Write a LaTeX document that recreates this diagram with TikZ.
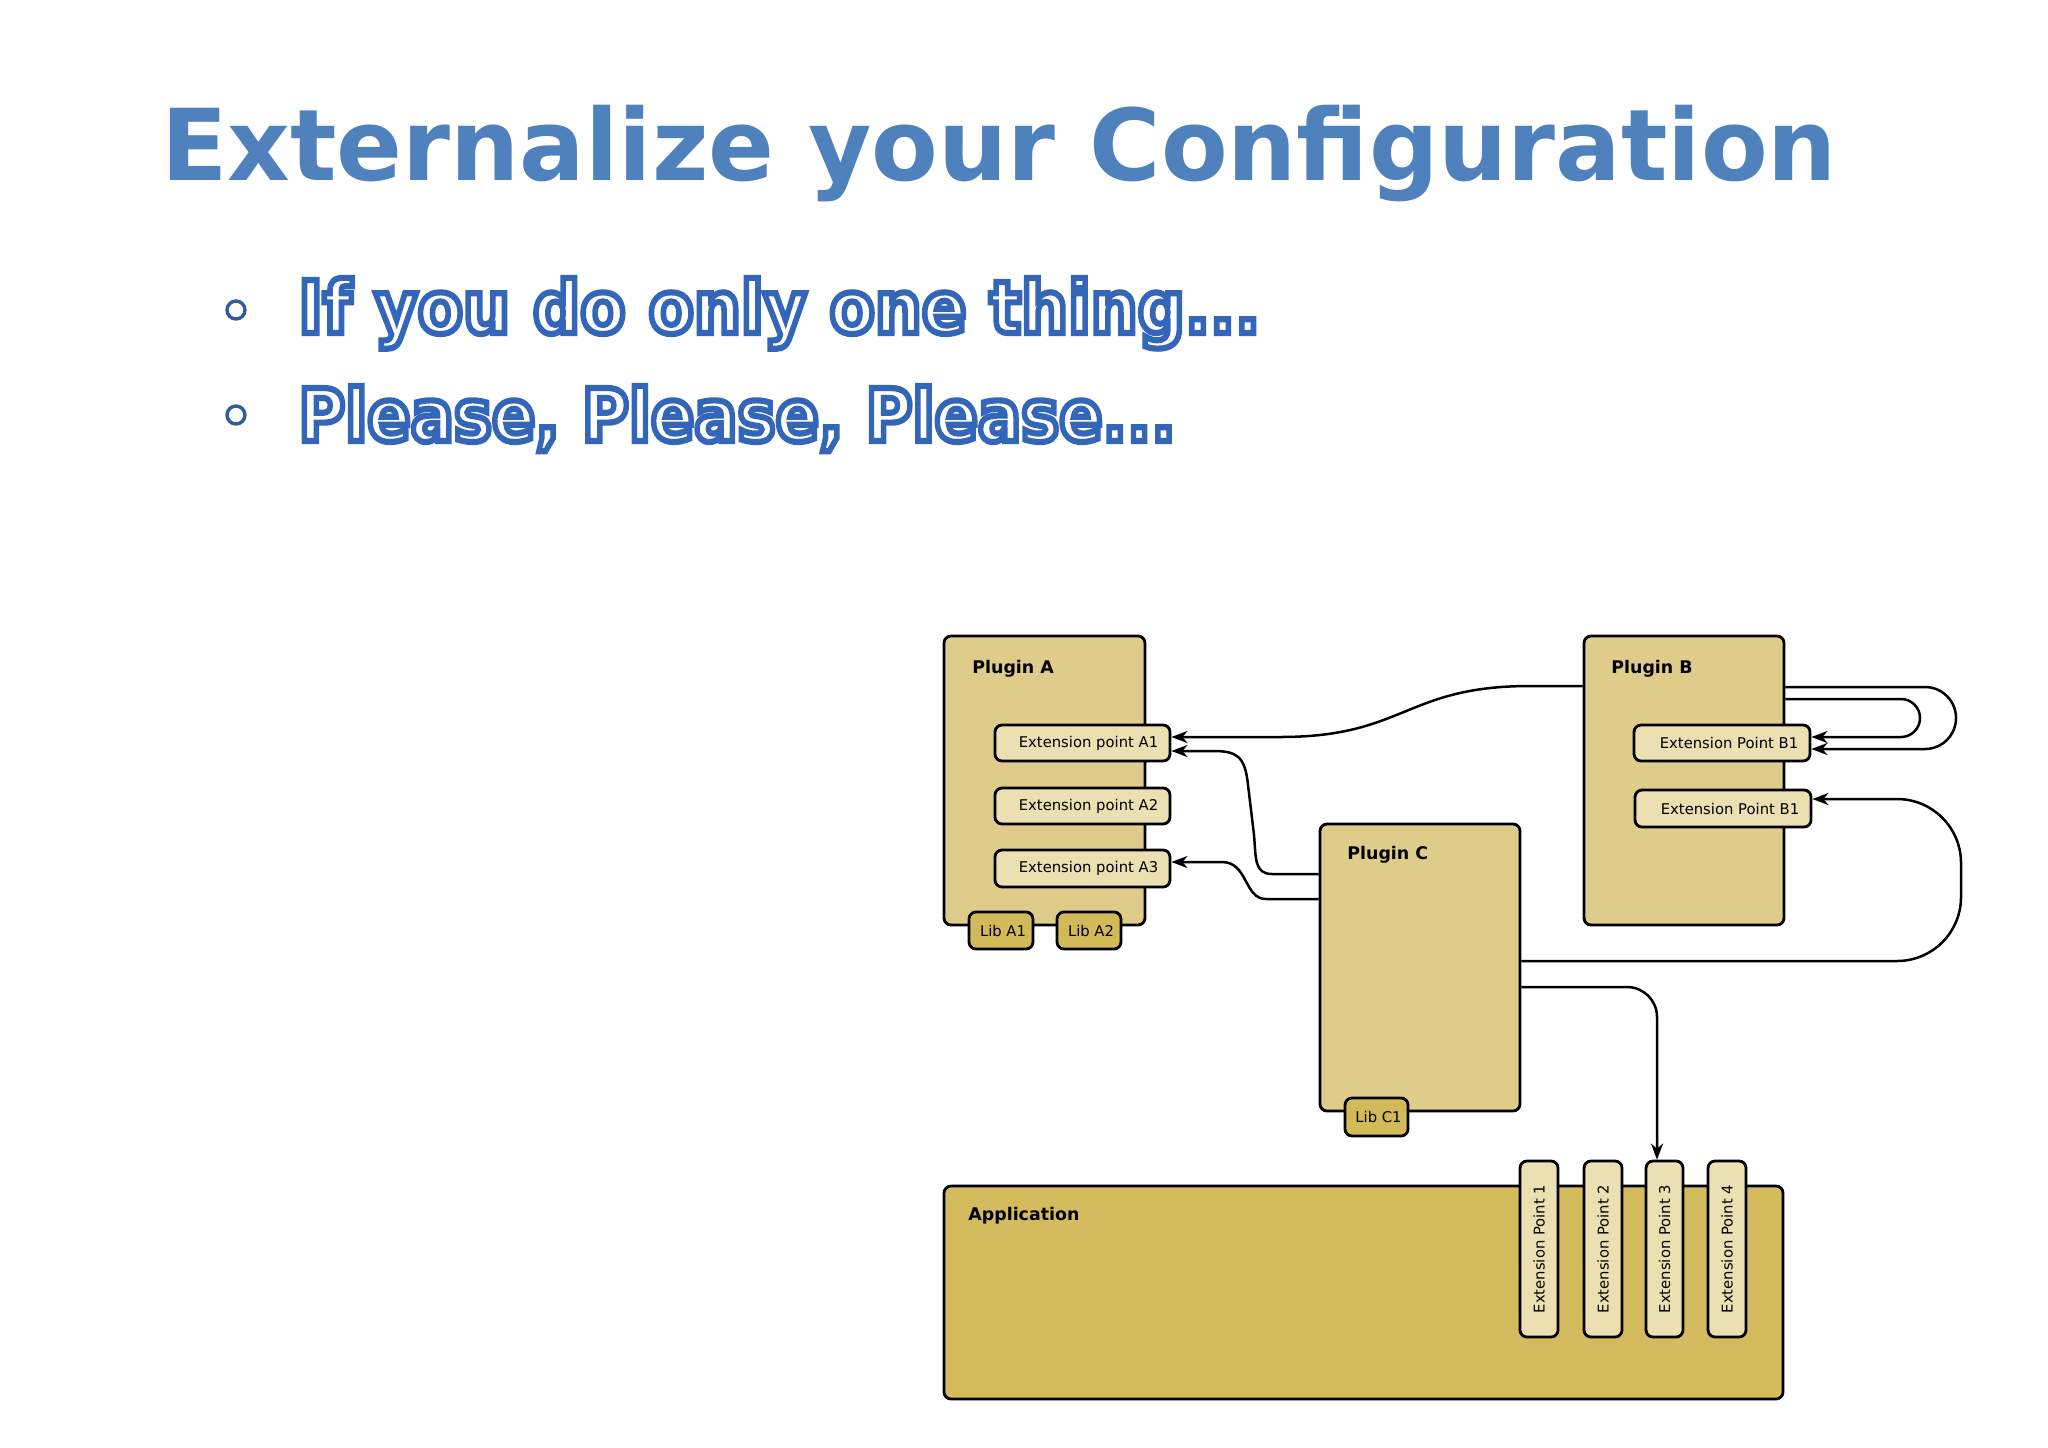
\documentclass[tikz,border=0pt]{standalone}
\usepackage{fontspec}
\usepackage{graphicx}
\setmainfont{DejaVu Sans}
\usetikzlibrary{arrows.meta,fit,calc}
\definecolor{plugfill}{HTML}{DFCC8A}
\definecolor{extfill}{HTML}{EBE0B2}
\definecolor{libfill}{HTML}{D3BA59}
\definecolor{appfill}{HTML}{D4BC5E}
\definecolor{titleblue}{HTML}{4F81BD}
\definecolor{bulletblue}{HTML}{2E5E9E}
\newcommand\outlinetext[1]{\special{pdf:literal direct 2 Tr 2.8 w 0.20 0.40 0.72 RG 1 1 1 rg}#1\special{pdf:literal direct 0 Tr 0 0 0 RG 0 0 0 rg}}
\tikzset{
  box/.style={draw=black, line width=1.4pt, rounded corners=3.5pt, inner sep=0pt},
  plugin/.style={box, fill=plugfill},
  extbox/.style={box, fill=extfill},
  libbox/.style={box, fill=libfill},
  appbox/.style={box, fill=appfill},
  biglabel/.style={font=\bfseries\fontsize{8.7}{10}\selectfont, anchor=west, inner sep=0pt},
  smalllabel/.style={font=\fontsize{7.4}{9}\selectfont, inner sep=0pt},
  vlabel/.style={font=\fontsize{7.4}{9}\selectfont, rotate=90, inner sep=0pt},
  conn/.style={line width=1.25pt, -{Stealth[length=8pt,width=6pt,inset=2.5pt]}},
  bulletdot/.style={circle, draw=bulletblue, line width=1.7pt, minimum size=9pt, inner sep=0pt},
  bullettext/.style={anchor=base west, inner sep=0pt, font=\bfseries\fontsize{33}{36}\selectfont}
}
\begin{document}
\begin{tikzpicture}[x=0.5pt,y=-0.5pt]
\useasboundingbox (0,0) rectangle (2048,1447);
\fill[white] (0,0) rectangle (2048,1447);

% title
\node[anchor=base west, inner sep=0pt, text=titleblue, font=\bfseries\fontsize{48.6}{52}\selectfont] (title) at (161,180) {\scalebox{1}[1.02]{Externalize your Configuration}};

% bullets
\node[bulletdot] (b1) at (236,310) {};
\node[bullettext] (t1) at (298,333) {\scalebox{1}[1.1]{\outlinetext{If you do only one thing...}}};
\node[bulletdot] (b2) at (236,415) {};
\node[bullettext] (t2) at (298,441) {\scalebox{0.97}[1.1]{\outlinetext{Please, Please, Please...}}};

% Plugin A
\node[plugin, fit={(944,636) (1145,925)}] (pa) {};
\node[biglabel] (pal) at (972,669) {Plugin A};
\node[extbox, fit={(995,725) (1170,761)}] (ea1) {};
\node[smalllabel] (ea1l) at ($(ea1.center)+(6,0)$) {Extension point A1};
\node[extbox, fit={(995,788) (1170,824)}] (ea2) {};
\node[smalllabel] (ea2l) at ($(ea2.center)+(6,0)$) {Extension point A2};
\node[extbox, fit={(995,850) (1170,887)}] (ea3) {};
\node[smalllabel] (ea3l) at ($(ea3.center)+(6,0)$) {Extension point A3};
\node[libbox, fit={(969,912) (1033,949)}] (la1) {};
\node[smalllabel] (la1l) at ($(la1.center)+(2,0)$) {Lib A1};
\node[libbox, fit={(1057,912) (1121,949)}] (la2) {};
\node[smalllabel] (la2l) at ($(la2.center)+(2,0)$) {Lib A2};

% Plugin B
\node[plugin, fit={(1584,636) (1784,925)}] (pb) {};
\node[biglabel] (pbl) at (1611,669) {Plugin B};
\node[extbox, fit={(1634,725) (1810,761)}] (eb1) {};
\node[smalllabel] (eb1l) at ($(eb1.center)+(7,0)$) {Extension Point B1};
\node[extbox, fit={(1635,790) (1811,827)}] (eb2) {};
\node[smalllabel] (eb2l) at ($(eb2.center)+(7,0)$) {Extension Point B1};

% Plugin C
\node[plugin, fit={(1320,824) (1520,1111)}] (pc) {};
\node[biglabel] (pcl) at (1347,855) {Plugin C};
\node[libbox, fit={(1345,1098) (1408,1136)}] (lc1) {};
\node[smalllabel] (lc1l) at ($(lc1.center)+(2,0)$) {Lib C1};

% Application
\node[appbox, fit={(944,1186) (1783,1399)}] (app) {};
\node[biglabel] (appl) at (968,1216) {Application};
\node[extbox, fit={(1520,1161) (1558,1337)}] (ep1) {};
\node[vlabel] (ep1l) at (ep1.center) {Extension Point 1};
\node[extbox, fit={(1584,1161) (1622,1337)}] (ep2) {};
\node[vlabel] (ep2l) at (ep2.center) {Extension Point 2};
\node[extbox, fit={(1646,1161) (1683,1337)}] (ep3) {};
\node[vlabel] (ep3l) at (ep3.center) {Extension Point 3};
\node[extbox, fit={(1708,1161) (1746,1337)}] (ep4) {};
\node[vlabel] (ep4l) at (ep4.center) {Extension Point 4};

% connectors
\draw[conn] (pb.west |- 0,686) -- (1530,686) .. controls (1405,686) and (1405,737) .. (1280,737) -- (ea1.east |- 0,737);
\draw[conn] (pc.west |- 0,874) -- (1272,874) .. controls (1254,874) and (1256,858) .. (1254,835) -- (1248,785) .. controls (1245,755) and (1236,751) .. (1212,751) -- (ea1.east |- 0,751);
\draw[conn] (pc.west |- 0,899) -- (1266,899) .. controls (1244,899) and (1248,862) .. (1222,862) -- (ea3.east |- 0,862);
\draw[conn, rounded corners=15.5pt] (pb.east |- 0,687) -- (1956,687) -- (1956,749) -- (eb1.east |- 0,749);
\draw[conn, rounded corners=9.5pt] (pb.east |- 0,699) -- (1920,699) -- (1920,737) -- (eb1.east |- 0,737);
\draw[conn, rounded corners=32pt] (pc.east |- 0,961) -- (1961,961) -- (1961,799) -- (eb2.east |- 0,799);
\draw[conn, rounded corners=15pt] (pc.east |- 0,987) -- (1657,987) -- (1657,0 |- ep3.north);
\end{tikzpicture}
\end{document}
